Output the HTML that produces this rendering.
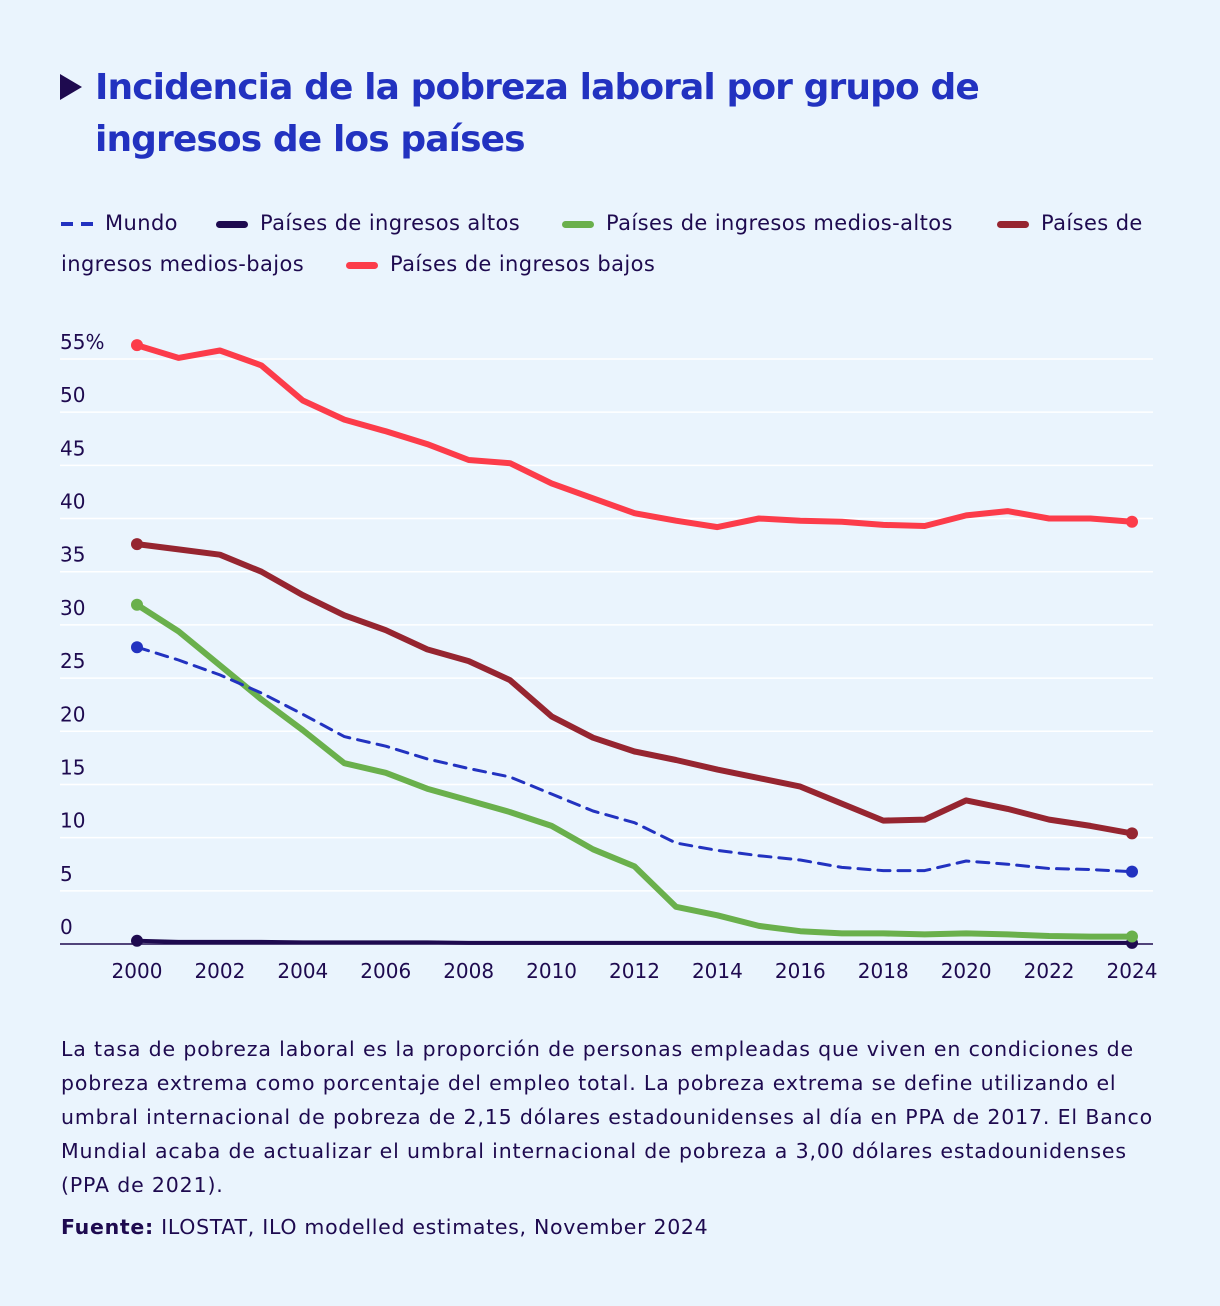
<!DOCTYPE html>
<html><head><meta charset="utf-8"><style>
body{margin:0;background:#eaf4fd;font-family:"DejaVu Sans","Liberation Sans",sans-serif;color:#1e0a4f;}
#wrap{position:relative;width:1220px;height:1306px;overflow:hidden;}
#title{position:absolute;left:95px;top:62px;font-size:36px;font-weight:bold;color:#2232c0;line-height:52px;letter-spacing:-0.9px;}
#tri{position:absolute;left:60px;top:74px;width:0;height:0;border-left:22px solid #1e0a4f;border-top:13px solid transparent;border-bottom:13px solid transparent;}
.leg{position:absolute;font-size:21px;line-height:40px;letter-spacing:0.4px;white-space:nowrap;}
.sw{display:inline-block;width:32px;height:7px;border-radius:4px;vertical-align:middle;margin-right:12px;}
#note{position:absolute;left:61px;top:1032px;width:1140px;font-size:20.5px;line-height:34px;white-space:nowrap;letter-spacing:0.85px;}
svg text{font-family:"DejaVu Sans","Liberation Sans",sans-serif;fill:#1e0a4f;font-size:20px;}
</style></head><body><div id="wrap">
<div id="tri"></div>
<div id="title">Incidencia de la pobreza laboral por grupo de<br>ingresos de los países</div>
<div class="leg" style="left:61px;top:203px"><svg width="32" height="8" style="vertical-align:middle;margin-right:12px"><line x1="0" y1="4" x2="32" y2="4" stroke="#2232c0" stroke-width="4" stroke-dasharray="12,8"/></svg>Mundo</div>
<div class="leg" style="left:216px;top:203px"><span class="sw" style="background:#1e0a4f"></span>Países de ingresos altos</div>
<div class="leg" style="left:562px;top:203px"><span class="sw" style="background:#6ab04c"></span>Países de ingresos medios-altos</div>
<div class="leg" style="left:997px;top:203px"><span class="sw" style="background:#962530"></span>Países de</div>
<div class="leg" style="left:61px;top:244px">ingresos medios-bajos</div>
<div class="leg" style="left:346px;top:244px"><span class="sw" style="background:#fc3c4a"></span>Países de ingresos bajos</div>
<svg id="chart" width="1220" height="1000" style="position:absolute;left:0;top:0"></svg>
<div id="note">La tasa de pobreza laboral es la proporción de personas empleadas que viven en condiciones de<br>pobreza extrema como porcentaje del empleo total. La pobreza extrema se define utilizando el<br>umbral internacional de pobreza de 2,15 dólares estadounidenses al día en PPA de 2017. El Banco<br>Mundial acaba de actualizar el umbral internacional de pobreza a 3,00 dólares estadounidenses<br>(PPA de 2021).
<div style="margin-top:8px;letter-spacing:0.7px"><b>Fuente:</b> ILOSTAT, ILO modelled estimates, November 2024</div></div>
</div>
<script>
const years=[2000,2001,2002,2003,2004,2005,2006,2007,2008,2009,2010,2011,2012,2013,2014,2015,2016,2017,2018,2019,2020,2021,2022,2023,2024];
const yTicks=[0,5,10,15,20,25,30,35,40,45,50,55];
const xTicks=[2000,2002,2004,2006,2008,2010,2012,2014,2016,2018,2020,2022,2024];
const bajos=[56.3,55.1,55.8,54.4,51.1,49.3,48.2,47.0,45.5,45.2,43.3,41.9,40.5,39.8,39.2,40.0,39.8,39.7,39.4,39.3,40.3,40.7,40.0,40.0,39.7];
const mediosBajos=[37.6,37.1,36.6,35.0,32.8,30.9,29.5,27.7,26.6,24.8,21.4,19.4,18.1,17.3,16.4,15.6,14.8,13.2,11.6,11.7,13.5,12.7,11.7,11.1,10.4];
const mediosAltos=[31.9,29.4,26.2,23.0,20.1,17.0,16.1,14.6,13.5,12.4,11.1,8.9,7.3,3.5,2.7,1.7,1.2,1.0,1.0,0.9,1.0,0.9,0.75,0.7,0.7];
const mundo=[27.9,26.7,25.3,23.6,21.6,19.5,18.6,17.4,16.5,15.7,14.1,12.5,11.4,9.5,8.8,8.3,7.9,7.2,6.9,6.9,7.8,7.5,7.1,7.0,6.8];
const altos=[0.3,0.2,0.2,0.2,0.15,0.15,0.15,0.15,0.1,0.1,0.1,0.1,0.1,0.1,0.1,0.1,0.1,0.1,0.1,0.1,0.1,0.1,0.1,0.1,0.1];
const NS='http://www.w3.org/2000/svg';
const svg=document.getElementById('chart');
const X=y=>137+(y-2000)*(1132-137)/24;
const Y=v=>944-v*(944-359)/55;
function mk(t,a){const e=document.createElementNS(NS,t);for(const k in a)e.setAttribute(k,a[k]);svg.appendChild(e);return e;}
yTicks.forEach(t=>{
  const l=mk('line',{x1:60,x2:1153,y1:Y(t),y2:Y(t),stroke:t===0?'#1e0a4f':'#ffffff','stroke-width':1.5});
  
  
  const tx=mk('text',{x:60,y:Y(t)-10});
  tx.textContent=t===55?'55%':String(t);
  
  
});
xTicks.forEach(t=>{
  const tx=mk('text',{x:X(t),y:978,'text-anchor':'middle'});
  tx.textContent=t;
  
  
});
function series(vals,color,w,dash,name){
  const d=vals.map((v,i)=>(i?'L':'M')+X(years[i]).toFixed(1)+','+Y(v).toFixed(1)).join(' ');
  const p=mk('path',{d:d,fill:'none',stroke:color,'stroke-width':w,'stroke-linejoin':'round','stroke-linecap':'round'});
  if(dash)p.setAttribute('stroke-dasharray',dash);
  
  
  [0,vals.length-1].forEach(i=>{
    const c=mk('circle',{cx:X(years[i]),cy:Y(vals[i]),r:6,fill:color});
    
    
  });
}
series(altos,'#1e0a4f',4,null,'altos');
series(mediosAltos,'#6ab04c',6,null,'medios-altos');
series(mundo,'#2232c0',3,'12,8','mundo');
series(mediosBajos,'#962530',6,null,'medios-bajos');
series(bajos,'#fc3c4a',6,null,'bajos');
</script></body></html>
